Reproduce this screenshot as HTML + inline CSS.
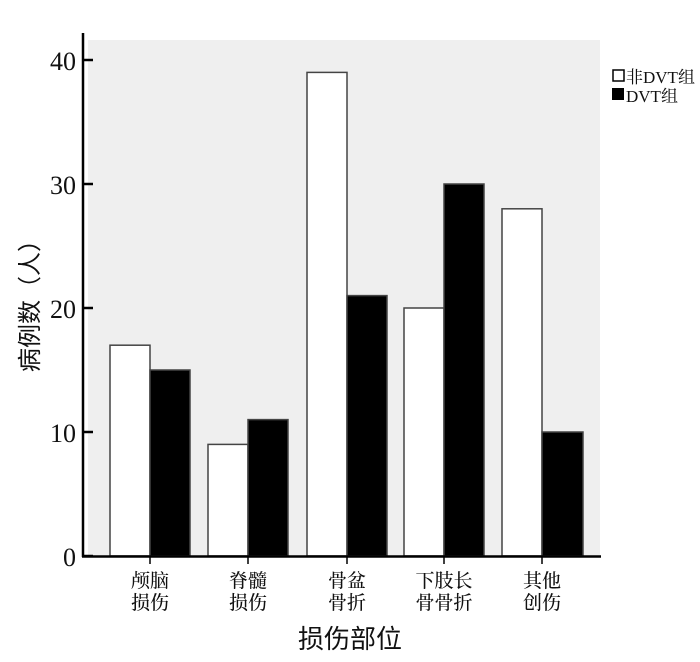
<!DOCTYPE html>
<html><head><meta charset="utf-8"><style>
body{margin:0;background:#fff;}
svg text{font-family:"Liberation Serif","Noto Serif CJK SC",serif;}
.cjk{font-family:"Liberation Sans","Noto Sans CJK SC",sans-serif;}
.leg{font-family:"Liberation Sans","Noto Sans CJK SC",sans-serif;}
</style></head><body>
<svg width="700" height="657" viewBox="0 0 700 657" xmlns="http://www.w3.org/2000/svg">
<rect x="88" y="40" width="512" height="516" fill="#efefef"/>
<g stroke="#444" stroke-width="1.5">
<rect x="110" y="345.2" width="40" height="210.8" fill="#fff"/>
<rect x="150" y="370" width="40" height="186" fill="#000"/>
<rect x="208" y="444.4" width="40" height="111.6" fill="#fff"/>
<rect x="248" y="419.6" width="40" height="136.4" fill="#000"/>
<rect x="307" y="72.4" width="40" height="483.6" fill="#fff"/>
<rect x="347" y="295.6" width="40" height="260.4" fill="#000"/>
<rect x="404" y="308" width="40" height="248" fill="#fff"/>
<rect x="444" y="184" width="40" height="372" fill="#000"/>
<rect x="502" y="208.8" width="40" height="347.2" fill="#fff"/>
<rect x="542" y="432" width="41" height="124" fill="#000"/>
</g>
<g stroke="#000" stroke-width="2.5" fill="none">
<line x1="83" y1="33" x2="83" y2="557"/>
<line x1="82" y1="556.5" x2="601" y2="556.5"/>
<line x1="83" y1="60" x2="93" y2="60"/>
<line x1="83" y1="184" x2="93" y2="184"/>
<line x1="83" y1="308" x2="93" y2="308"/>
<line x1="83" y1="432" x2="93" y2="432"/>
<line x1="83" y1="556" x2="93" y2="556"/>
</g>
<g stroke="#000" stroke-width="1.5">
<line x1="150" y1="556" x2="150" y2="564"/>
<line x1="248" y1="556" x2="248" y2="564"/>
<line x1="347" y1="556" x2="347" y2="564"/>
<line x1="444" y1="556" x2="444" y2="564"/>
<line x1="542" y1="556" x2="542" y2="564"/>
</g>
<g font-size="26" text-anchor="end" fill="#111">
<text x="76" y="70">40</text>
<text x="76" y="194">30</text>
<text x="76" y="318">20</text>
<text x="76" y="442">10</text>
<text x="76" y="566">0</text>
</g>
<g class="cjk" font-size="19" font-weight="500" text-anchor="middle" fill="#111">
<text x="150" y="587">颅脑</text><text x="150" y="609">损伤</text>
<text x="248" y="587">脊髓</text><text x="248" y="609">损伤</text>
<text x="347" y="587">骨盆</text><text x="347" y="609">骨折</text>
<text x="444" y="587">下肢长</text><text x="444" y="609">骨骨折</text>
<text x="542" y="587">其他</text><text x="542" y="609">创伤</text>
</g>
<text class="cjk" x="350" y="648" font-size="26" text-anchor="middle" fill="#111">损伤部位</text>
<text class="cjk" transform="translate(38,300) rotate(-90)" font-size="24" text-anchor="middle" fill="#111">病例数（人）</text>
<rect x="613" y="70" width="11" height="11" fill="#fff" stroke="#000" stroke-width="1.5"/>
<rect x="612" y="88" width="12" height="12" fill="#000"/>
<g class="leg" font-size="17" fill="#111">
<text x="626" y="83">非DVT组</text>
<text x="626" y="102">DVT组</text>
</g>
</svg>
</body></html>
